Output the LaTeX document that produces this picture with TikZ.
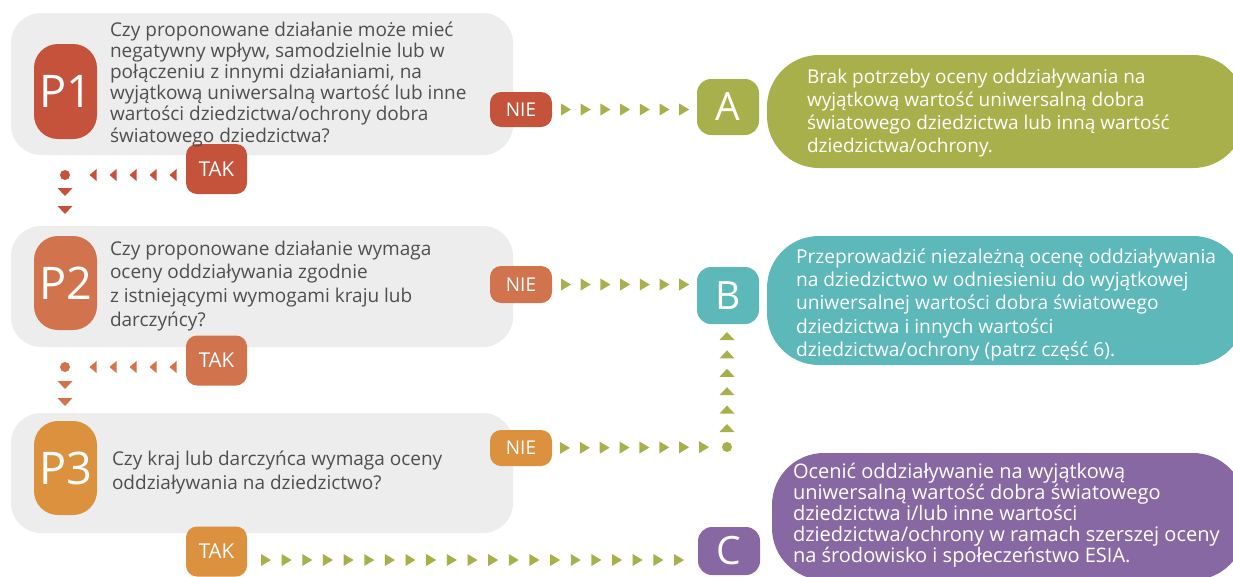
\documentclass[tikz,border=0pt]{standalone}
\usepackage{fontspec}
\setmainfont{Open Sans}
\usetikzlibrary{decorations.markings}
\definecolor{pone}{HTML}{C5533B}
\definecolor{ptwo}{HTML}{D1734D}
\definecolor{pthree}{HTML}{DB913E}
\definecolor{olive}{HTML}{A8B04B}
\definecolor{teal}{HTML}{5DB8BA}
\definecolor{purple}{HTML}{8868A2}
\definecolor{boxgrey}{HTML}{EDEDED}
\definecolor{qgrey}{HTML}{4F4F4F}
\tikzset{
  greybox/.style={fill=boxgrey, rounded corners=30pt, minimum width=502pt},
  badge/.style={rounded corners=24pt, minimum width=63pt, text=white, font=\fontsize{45}{45}\selectfont},
  nietag/.style={rounded corners=11pt, minimum width=62pt, text=white, font=\fontsize{19}{19}\selectfont},
  taktag/.style={rounded corners=11pt, minimum width=61pt, minimum height=50pt, text=white, font=\fontsize{20.5}{20.5}\selectfont},
  letter/.style={rounded corners=14pt, minimum width=62pt, text=white, font=\fontsize{39}{39}\selectfont},
  descbox/.style={rounded corners=52pt},
  qtext/.style={anchor=north west, align=left, text=qgrey, font=\fontsize{19}{21.2}\selectfont},
  dtext/.style={anchor=north west, align=left, text=white},
  hchain/.style n args={4}{decoration={markings, mark=between positions #1 and #2 step #3 with {\fill[#4] (-5pt,-6pt) -- (5pt,0pt) -- (-5pt,6pt) -- cycle;}}, decorate},
  lchain/.style n args={4}{decoration={markings, mark=between positions #1 and #2 step #3 with {\fill[#4] (-3.5pt,-6pt) -- (3.5pt,0pt) -- (-3.5pt,6pt) -- cycle;}}, decorate},
  vchain/.style n args={4}{decoration={markings, mark=between positions #1 and #2 step #3 with {\fill[#4] (-4pt,-7.5pt) -- (4pt,0pt) -- (-4pt,7.5pt) -- cycle;}}, decorate},
}
\newcommand{\fs}{\rule{0pt}{16pt}}
\begin{document}
\begin{tikzpicture}[x=1pt,y=-1pt, every node/.style={inner sep=0pt, outer sep=0pt}]
\useasboundingbox (0,0) rectangle (1233,576);
% grey question boxes
\node[greybox, minimum height=142pt] (g1) at (262,84) {};
\node[greybox, minimum height=121pt] (g2) at (262,286.5) {};
\node[greybox, minimum height=120pt] (g3) at (262,473) {};
% description boxes
\node[descbox, fill=olive, minimum width=478pt, minimum height=113pt] (dA) at (1006,111.5) {};
\node[descbox, fill=teal, minimum width=478pt, minimum height=129pt] (dB) at (1006,300.5) {};
\node[descbox, fill=purple, minimum width=473pt, minimum height=127pt] (dC) at (1008.5,516.5) {};
% badges
\node[badge, fill=pone, minimum height=95pt] (p1) at (65.5,91.5) {P1};
\node[badge, fill=ptwo, minimum height=94pt] (p2) at (65.5,283) {P2};
\node[badge, fill=pthree, minimum height=94pt] (p3) at (65.5,468) {P3};
% TAK
\node[taktag, fill=pone] (t1) at (216.5,169) {TAK};
\node[taktag, fill=ptwo] (t2) at (216.5,360.5) {TAK};
\node[taktag, fill=pthree] (t3) at (216.5,551.5) {TAK};
% NIE
\node[nietag, fill=pone, minimum height=35pt] (n1) at (521,109.5) {NIE};
\node[nietag, fill=ptwo, minimum height=37pt] (n2) at (521,284.5) {NIE};
\node[nietag, fill=pthree, minimum height=36pt] (n3) at (521,448) {NIE};
% letters
\node[letter, fill=olive, minimum height=56pt] (A) at (728,107) {A};
\node[letter, fill=teal, minimum height=57pt] (B) at (728,295.5) {B};
\node[letter, fill=purple, minimum height=48pt] (C) at (729,551) {C};
% texts
\node[qtext] (q1) at (110,20) {\fs Czy proponowane działanie może mieć\\negatywny wpływ, samodzielnie lub w\\połączeniu z innymi działaniami, na\\wyjątkową uniwersalną wartość lub inne\\wartości dziedzictwa/ochrony dobra\\światowego dziedzictwa?};
\node[qtext, font=\fontsize{19}{23.8}\selectfont] (q2) at (110,239) {\fs Czy proponowane działanie wymaga\\oceny oddziaływania zgodnie\\z istniejącymi wymogami kraju lub\\darczyńcy?};
\node[qtext, font=\fontsize{19}{24}\selectfont] (q3) at (112,449) {\fs Czy kraj lub darczyńca wymaga oceny\\oddziaływania na dziedzictwo?};
\node[dtext, font=\fontsize{19}{23.3}\selectfont] (tA) at (807,67) {\fs Brak potrzeby oceny oddziaływania na\\wyjątkową wartość uniwersalną dobra\\światowego dziedzictwa lub inną wartość\\dziedzictwa/ochrony.};
\node[dtext, font=\fontsize{19.2}{23.4}\selectfont] (tB) at (796,247) {\fs Przeprowadzić niezależną ocenę oddziaływania\\na dziedzictwo w odniesieniu do wyjątkowej\\uniwersalnej wartości dobra światowego\\dziedzictwa i innych wartości\\dziedzictwa/ochrony (patrz część 6).};
\node[dtext, font=\fontsize{20}{21}\selectfont] (tC) at (793,462) {\fs Ocenić oddziaływanie na wyjątkową\\uniwersalną wartość dobra światowego\\dziedzictwa i/lub inne wartości\\dziedzictwa/ochrony w ramach szerszej oceny\\na środowisko i społeczeństwo ESIA.};
% junction points
\coordinate (c1) at (65,175);
\coordinate (c2) at (65,367);
\coordinate (c3) at (727,447);
\fill[pone] (c1) circle[radius=5pt];
\fill[ptwo] (c2) circle[radius=5pt];
\fill[olive] (c3) circle[radius=5pt];
% chains
\path[hchain={14pt}{-12pt}{19.7pt}{olive}] (n1.east) -- (n1.east -| A.west);
\path[hchain={14pt}{-12pt}{19.7pt}{olive}] (n2.east) -- (n2.east -| B.west);
\path[hchain={13pt}{-20pt}{19.86pt}{olive}] (n3.east) -- (c3);
\path[vchain={19pt}{-11pt}{18.4pt}{olive}] (c3) -- (c3 |- B.south);
\path[lchain={13pt}{-26pt}{20pt}{pone}] (t1.west |- c1) -- (c1);
\path[vchain={17pt}{-20pt}{18pt}{pone}] (c1) -- (c1 |- p2.north);
\path[lchain={13pt}{-26pt}{20pt}{ptwo}] (t2.west |- c2) -- (c2);
\path[vchain={18pt}{-18pt}{17pt}{ptwo}] (c2) -- (c2 |- p3.north);
\path[hchain={19pt}{-16pt}{20.65pt}{olive}] ([yshift=-8.5pt]t3.east) -- ([yshift=-8.5pt]t3.east -| C.west);
\end{tikzpicture}
\end{document}
